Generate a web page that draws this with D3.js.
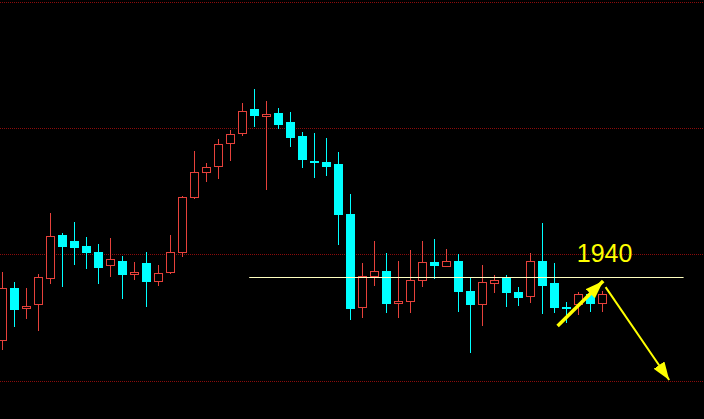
<!DOCTYPE html>
<html>
<head>
<meta charset="utf-8">
<script src="https://cdn.jsdelivr.net/npm/d3@7"></script>
<style>
  html, body { margin: 0; padding: 0; background: #000; }
  #chart { display: block; }
</style>
</head>
<body>
<svg id="chart"></svg>
<script>
// OHLC values, one entry per candle (left to right)
const opens  = [1927.3, 1937.8, 1933.7, 1934.5, 1939.6, 1948.3, 1947.1, 1946.1, 1945.0, 1942.2,
                1943.2, 1940.4, 1942.8, 1939.0, 1940.8, 1944.8, 1955.6, 1960.6, 1961.8, 1966.3,
                1968.3, 1973.3, 1971.7, 1972.5, 1970.7, 1967.9, 1963.0, 1962.8, 1962.4, 1952.5,
                1933.9, 1940.0, 1941.2, 1934.7, 1935.0, 1939.2, 1943.0, 1942.0, 1943.2, 1937.2,
                1934.5, 1938.6, 1939.8, 1937.0, 1936.0, 1943.2, 1938.8, 1934.1, 1934.5, 1936.6,
                1934.7];
const highs  = [1941.0, 1939.0, 1937.8, 1940.6, 1952.7, 1948.7, 1950.9, 1947.9, 1946.5, 1947.7,
                1944.2, 1943.0, 1945.0, 1942.4, 1948.3, 1956.0, 1964.9, 1962.6, 1967.3, 1969.1,
                1974.5, 1977.2, 1974.8, 1973.5, 1972.7, 1968.7, 1968.5, 1967.5, 1964.8, 1956.4,
                1942.8, 1947.1, 1944.8, 1943.2, 1945.3, 1947.1, 1947.5, 1945.5, 1944.6, 1940.0,
                1942.4, 1940.4, 1940.4, 1938.0, 1944.8, 1950.7, 1942.8, 1935.0, 1937.0, 1938.0,
                1937.2];
const lows   = [1925.5, 1930.1, 1931.7, 1929.3, 1938.6, 1938.0, 1942.4, 1941.6, 1938.6, 1940.0,
                1935.6, 1939.4, 1934.1, 1938.2, 1940.6, 1944.0, 1955.4, 1958.8, 1959.4, 1963.0,
                1967.9, 1969.7, 1957.2, 1969.3, 1965.7, 1961.6, 1959.6, 1960.0, 1946.3, 1931.5,
                1931.9, 1938.2, 1932.9, 1931.9, 1932.9, 1938.0, 1939.6, 1942.0, 1933.1, 1925.0,
                1930.3, 1936.8, 1934.1, 1934.3, 1934.9, 1932.7, 1932.9, 1930.9, 1932.5, 1933.1,
                1933.1];
const closes = [1937.8, 1933.5, 1934.3, 1940.0, 1948.1, 1945.9, 1945.7, 1944.8, 1941.8, 1943.6,
                1940.4, 1941.0, 1939.0, 1940.8, 1945.0, 1955.8, 1960.8, 1961.8, 1966.3, 1968.3,
                1972.9, 1971.9, 1972.3, 1970.1, 1967.5, 1963.2, 1962.6, 1961.8, 1952.3, 1933.7,
                1940.2, 1941.2, 1934.7, 1935.2, 1939.4, 1943.0, 1942.2, 1943.2, 1937.0, 1934.5,
                1939.0, 1939.4, 1936.8, 1935.8, 1943.2, 1938.2, 1933.9, 1933.7, 1936.6, 1934.7,
                1936.6];

// dotted price grid levels
const gridLevels = [1919.4, 1944.4, 1969.5, 1994.45];

// annotation: key level line, label and two arrows ([index, price] pairs)
const keyLevel = 1940;
const keyLevelSpan = [20.6, 56.8];
const keyLabel = '1940';
const keyLabelAt = [47.9, 1943.0];
const arrowUp = [[46.3, 1930.3], [50.1, 1939.2]];
const arrowDown = [[50.3, 1938.0], [55.6, 1919.6]];

const width = 704;
const height = 419;

const candles = opens.map((o, i) => ({
  i: i, open: o, high: highs[i], low: lows[i], close: closes[i]
}));

const svg = d3.select('#chart')
  .attr('width', width)
  .attr('height', height);

svg.append('rect')
  .attr('width', width)
  .attr('height', height)
  .attr('fill', '#000');

const xScale = d3.scaleLinear()
  .domain([0, 50])
  .range([2, 602]);

const yScale = d3.scaleLinear()
  .domain([1911.88, 1994.85])
  .range([height, 0]);

const red = '#e6413b';
const cyan = '#00ffff';
const bodyHalf = 4;

// grid
svg.append('g')
  .selectAll('line')
  .data(gridLevels)
  .enter()
  .append('line')
  .attr('x1', 0)
  .attr('x2', width)
  .attr('y1', d => Math.floor(yScale(d)) + 0.5)
  .attr('y2', d => Math.floor(yScale(d)) + 0.5)
  .attr('stroke', '#8a0c0c')
  .attr('stroke-width', 1)
  .attr('stroke-dasharray', '1,1');

const cx = d => Math.round(xScale(d.i)) + 0.5;
const up = d => d.close >= d.open;

const g = svg.append('g');

const candle = g.selectAll('g.candle')
  .data(candles)
  .enter()
  .append('g')
  .attr('class', 'candle');

// upper wick
candle.append('line')
  .attr('x1', cx)
  .attr('x2', cx)
  .attr('y1', d => Math.round(yScale(d.high)))
  .attr('y2', d => Math.round(yScale(Math.max(d.open, d.close))))
  .attr('stroke', d => up(d) ? red : cyan)
  .attr('stroke-width', 1);

// lower wick
candle.append('line')
  .attr('x1', cx)
  .attr('x2', cx)
  .attr('y1', d => Math.round(yScale(Math.min(d.open, d.close))))
  .attr('y2', d => Math.round(yScale(d.low)))
  .attr('stroke', d => up(d) ? red : cyan)
  .attr('stroke-width', 1);

// bodies: hollow red for up, filled cyan for down
candle.append('rect')
  .attr('x', d => up(d) ? cx(d) - bodyHalf : cx(d) - bodyHalf - 0.5)
  .attr('y', d => {
    const t = Math.round(yScale(Math.max(d.open, d.close)));
    return up(d) ? t + 0.5 : t;
  })
  .attr('width', d => up(d) ? bodyHalf * 2 : bodyHalf * 2 + 1)
  .attr('height', d => {
    const t = Math.round(yScale(Math.max(d.open, d.close)));
    const b = Math.round(yScale(Math.min(d.open, d.close)));
    return up(d) ? Math.max(b - t - 1, 1) : Math.max(b - t, 2);
  })
  .attr('fill', d => up(d) ? '#000' : cyan)
  .attr('stroke', d => up(d) ? red : 'none')
  .attr('stroke-width', 1);

// key level line
svg.append('line')
  .attr('x1', xScale(keyLevelSpan[0]))
  .attr('x2', xScale(keyLevelSpan[1]))
  .attr('y1', Math.round(yScale(keyLevel)) + 0.5)
  .attr('y2', Math.round(yScale(keyLevel)) + 0.5)
  .attr('stroke', '#ffffc0')
  .attr('stroke-width', 1);

svg.append('text')
  .attr('x', xScale(keyLabelAt[0]))
  .attr('y', yScale(keyLabelAt[1]))
  .attr('fill', '#ffff00')
  .style('font-family', '"Liberation Sans", Arial, sans-serif')
  .style('font-size', '25px')
  .text(keyLabel);

// arrows
const defs = svg.append('defs');
function arrowHead(id, w, h) {
  defs.append('marker')
    .attr('id', id)
    .attr('viewBox', `0 0 ${w} ${h}`)
    .attr('refX', w)
    .attr('refY', h / 2)
    .attr('markerWidth', w)
    .attr('markerHeight', h)
    .attr('markerUnits', 'userSpaceOnUse')
    .attr('orient', 'auto')
    .append('path')
    .attr('d', `M0,0 L${w},${h / 2} L0,${h} Z`)
    .attr('fill', '#ffff00');
}
arrowHead('headUp', 18, 13);
arrowHead('headDown', 18, 13);

svg.append('line')
  .attr('x1', xScale(arrowUp[0][0]))
  .attr('y1', yScale(arrowUp[0][1]))
  .attr('x2', xScale(arrowUp[1][0]))
  .attr('y2', yScale(arrowUp[1][1]))
  .attr('stroke', '#ffff00')
  .attr('stroke-width', 3.5)
  .attr('marker-end', 'url(#headUp)');

svg.append('line')
  .attr('x1', xScale(arrowDown[0][0]))
  .attr('y1', yScale(arrowDown[0][1]))
  .attr('x2', xScale(arrowDown[1][0]))
  .attr('y2', yScale(arrowDown[1][1]))
  .attr('stroke', '#ffff00')
  .attr('stroke-width', 2)
  .attr('marker-end', 'url(#headDown)');
</script>
</body>
</html>
